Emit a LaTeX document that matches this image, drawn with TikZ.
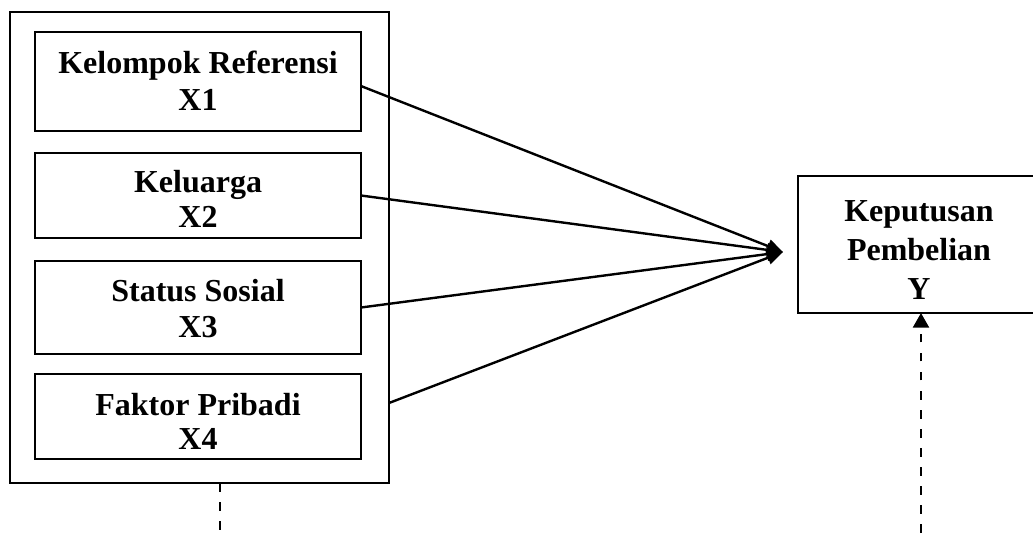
\documentclass[tikz,border=0pt]{standalone}
\usepackage{fontspec}
\setmainfont{Liberation Serif}
\usetikzlibrary{arrows.meta}
\begin{document}
\begin{tikzpicture}[x=0.75pt,y=-0.75pt,
  every node/.style={inner sep=0pt, outer sep=0pt},
  inbox/.style={draw, line width=1.1pt, minimum width=244.5pt},
  bigbox/.style={draw, line width=1.5pt},
  lbl/.style={align=center, font={\bfseries\fontsize{24}{#1}\selectfont}},
  conn/.style={line width=1.8pt, -{Triangle[length=12pt,width=10pt]}},
  dashln/.style={line width=1.8pt, dash pattern=on 6.4pt off 7.9pt}
]
\useasboundingbox (0,0) rectangle (1033,533);
\clip (0,0) rectangle (1033,533);

\node[bigbox, minimum width=284.25pt, minimum height=353.25pt] (outer) at (199.5,247.5) {};
\node[inbox, minimum height=74.25pt] (b1) at (198,81.5) {};
\node[inbox, minimum height=63.75pt] (b2) at (198,195.5) {};
\node[inbox, minimum height=69.75pt] (b3) at (198,307.5) {};
\node[inbox, minimum height=63.75pt] (b4) at (198,416.5) {};
\node[lbl=27.75] (t1) at (198,81) {Kelompok Referensi\\X1};
\node[lbl=26.25] (t2) at (198,198.5) {Keluarga\\X2};
\node[lbl=27] (t3) at (198,309) {Status Sosial\\X3};
\node[lbl=25.5] (t4) at (198,421) {Faktor Pribadi\\X4};

\node[bigbox, minimum width=181.5pt, minimum height=102.75pt] (yb) at (919,244.5) {};
\node[lbl=29.25] (yt) at (919,250) {Keputusan\\Pembelian\\Y};

\coordinate (tip) at (783,252);
\coordinate (c4) at (outer.east |- 0,403);
\draw[conn] ([yshift=-3.4pt]b1.east) -- (tip);
\draw[conn] (b2.east) -- (tip);
\draw[conn] (b3.east) -- (tip);
\draw[conn] (c4) -- (tip);

\coordinate (lb) at (220,533);
\draw[dashln] (outer.south -| lb) -- (lb);
\coordinate (rb) at (921,533);
\draw[dashln, -{Triangle[length=11pt,width=12pt]}] (rb) -- (rb |- yb.south);
\end{tikzpicture}
\end{document}
